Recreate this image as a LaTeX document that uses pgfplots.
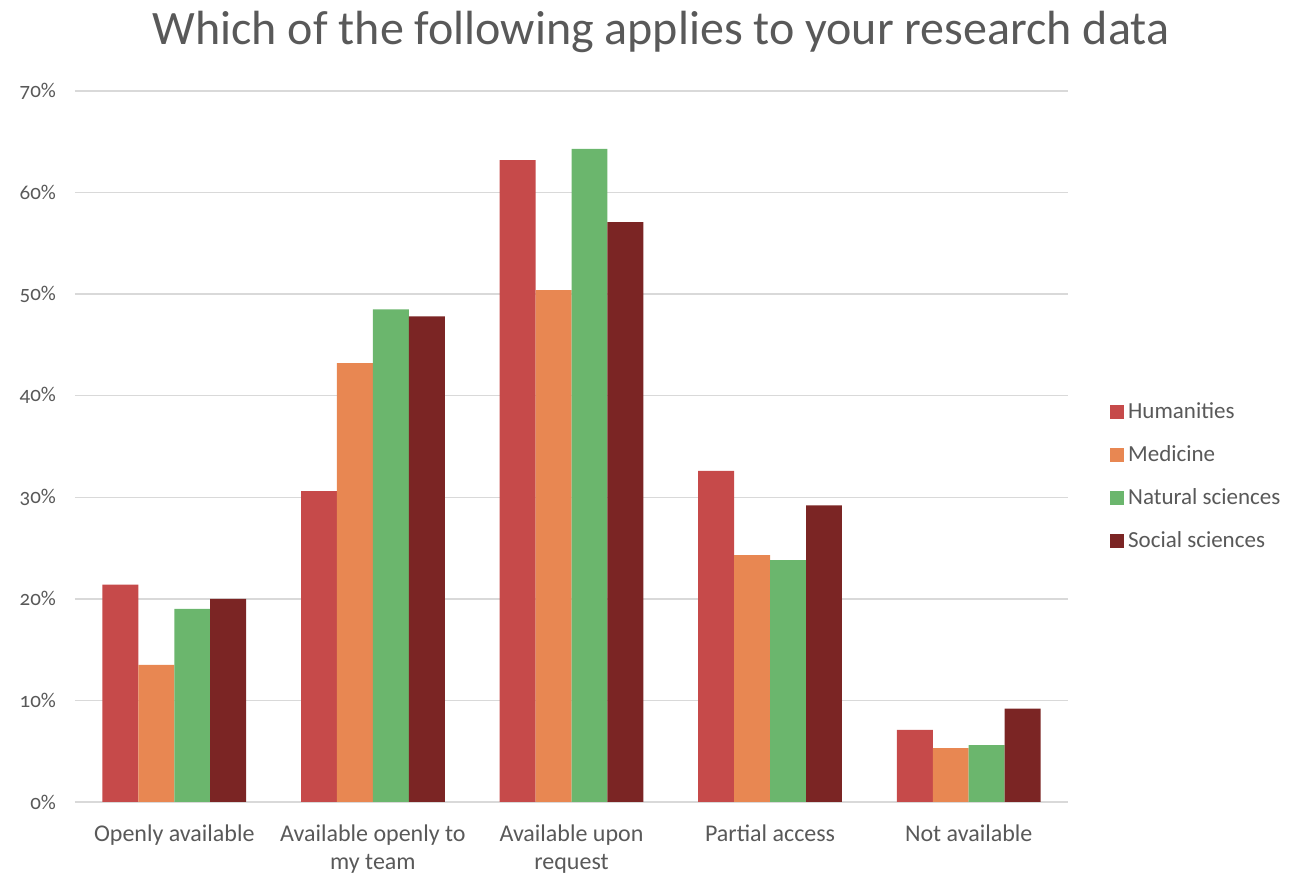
\documentclass[border=0pt]{standalone}
\usepackage{pgfplots}
\pgfplotsset{compat=1.18}
\usepackage{fontspec}
\setmainfont{Carlito}[Numbers=OldStyle]
\usetikzlibrary{calc}
\definecolor{hum}{HTML}{C64A4A}
\definecolor{med}{HTML}{E88752}
\definecolor{nat}{HTML}{6BB66D}
\definecolor{soc}{HTML}{7B2524}
\definecolor{txt}{HTML}{595959}
\definecolor{gridc}{HTML}{D9D9D9}
\begin{document}
\begin{tikzpicture}
\begin{axis}[
    scale only axis, width=496.5pt, height=355.5pt,
    xmin=-0.5, xmax=4.5, ymin=0, ymax=70,
    ybar=0pt, bar width=0.181,
    xtick={0,1,2,3,4},
    xticklabels={Openly available, Available openly to\\my team, Available upon\\request, Partial access, Not available},
    x tick label style={align=center, font=\fontsize{12}{14}\selectfont, text=txt, yshift=-8pt},
    ytick={0,10,...,70},
    yticklabel={\pgfmathprintnumber{\tick}\%},
    /pgf/number format/assume math mode=true,
    y tick label style={font=\fontsize{10.5}{13}\selectfont, text=txt, xshift=-6pt},
    ymajorgrids, grid style={draw=gridc, line width=0.75pt},
    axis line style={draw=none}, major tick length=0pt,
    legend style={draw=none, at={(1.036,0.458)}, anchor=west,
        font=\fontsize{11.5}{13}\selectfont, text=txt, row sep=8pt,
        /tikz/every even column/.append style={column sep=3pt}},
    legend cell align=left,
    legend image code/.code={\fill[#1] (0pt,-3.5pt) rectangle (7pt,3.5pt);},
]
\addplot[fill=hum, draw=none] coordinates {(0,21.4) (1,30.6) (2,63.2) (3,32.6) (4,7.1)};
\addplot[fill=med, draw=none] coordinates {(0,13.5) (1,43.2) (2,50.4) (3,24.3) (4,5.3)};
\addplot[fill=nat, draw=none] coordinates {(0,19.0) (1,48.5) (2,64.3) (3,23.8) (4,5.6)};
\addplot[fill=soc, draw=none] coordinates {(0,20.0) (1,47.8) (2,57.1) (3,29.2) (4,9.2)};
\legend{Humanities, Medicine, Natural sciences, Social sciences}
\end{axis}
\node[anchor=base, font=\fontsize{24}{28}\selectfont, text=txt] at ($(current axis.north west)+(293pt,23pt)$) {Which of the following applies to your research data};
\pgfresetboundingbox
\path[use as bounding box] ($(current axis.south west)+(-37.5pt,-35.5pt)$) rectangle ($(current axis.north east)+(111.5pt,45.5pt)$);
\end{tikzpicture}
\end{document}
